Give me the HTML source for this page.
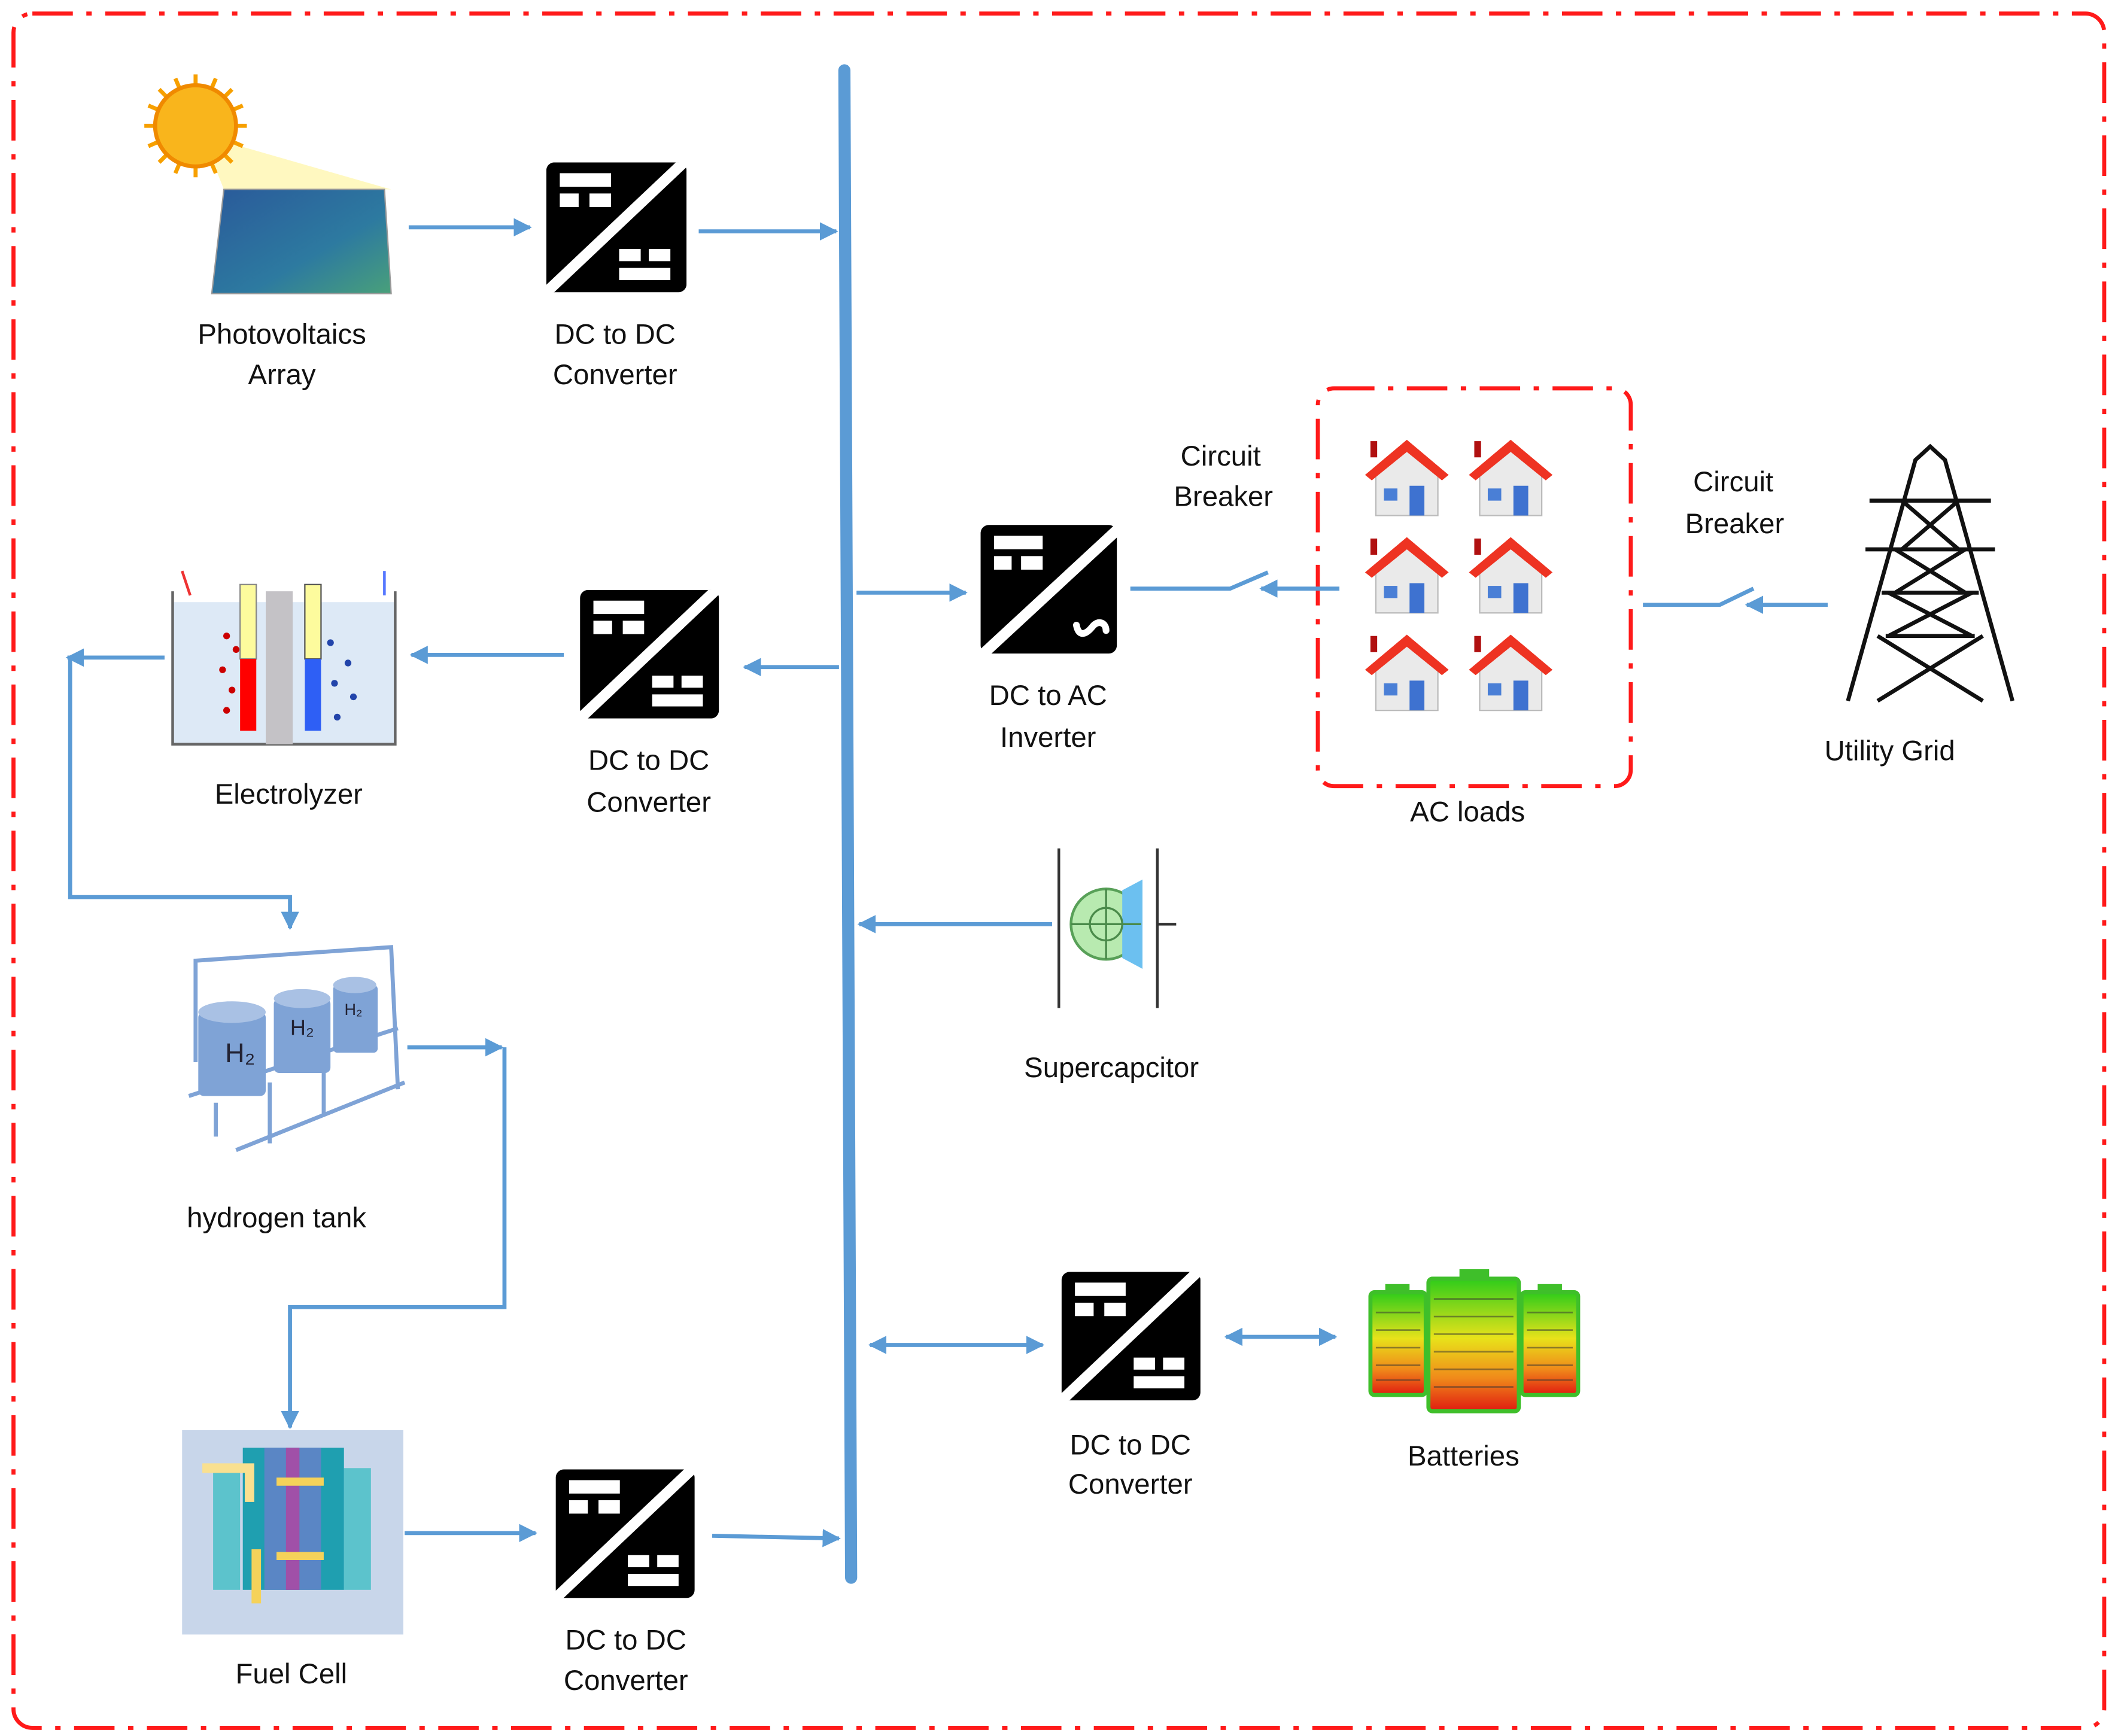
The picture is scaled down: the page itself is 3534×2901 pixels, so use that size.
<!DOCTYPE html>
<html><head><meta charset="utf-8"><style>html,body{margin:0;padding:0;background:#fff}svg{display:block}text{font-family:"Liberation Sans",sans-serif;font-size:21px;fill:#111;text-anchor:middle}</style></head>
<body>
<svg width="3534" height="2901" viewBox="0 0 1568 1283" preserveAspectRatio="none" xmlns="http://www.w3.org/2000/svg">
<defs>
<marker id="ar" viewBox="0 0 10 10" refX="9" refY="5" markerWidth="4.5" markerHeight="4.5" orient="auto-start-reverse"><path d="M0,0L10,5L0,10z" fill="#5b9bd5"/></marker>
<symbol id="conv" viewBox="0 0 104 96">
<rect x="0" y="0" width="104" height="96" rx="6" fill="#000"/>
<path d="M104,-2 L0,96" stroke="#fff" stroke-width="8"/>
<rect x="10" y="8" width="38" height="10" fill="#fff"/>
<rect x="10" y="23" width="14" height="10" fill="#fff"/><rect x="32" y="23" width="16" height="10" fill="#fff"/>
<rect x="54" y="64" width="16" height="9" fill="#fff"/><rect x="76" y="64" width="16" height="9" fill="#fff"/>
<rect x="54" y="78" width="38" height="9" fill="#fff"/>
</symbol>
<linearGradient id="bat" x1="0" y1="0" x2="0" y2="1"><stop offset="0" stop-color="#2ecc1a"/><stop offset="0.45" stop-color="#e8e21a"/><stop offset="0.75" stop-color="#f08a1a"/><stop offset="1" stop-color="#e01a10"/></linearGradient>
<linearGradient id="pv" x1="0" y1="0" x2="1" y2="1"><stop offset="0" stop-color="#2a5a9a"/><stop offset="0.6" stop-color="#2d7aa0"/><stop offset="1" stop-color="#49a07a"/></linearGradient>
<symbol id="house" viewBox="0 0 62 60">
<rect x="4" y="3" width="5" height="12" fill="#b01010"/>
<path d="M8,27 L8,58 L54,58 L54,27 L31,8 Z" fill="#eaeaea" stroke="#bbb"/>
<path d="M0,28 L31,2 L62,28 L57,32 L31,11 L5,32 Z" fill="#ee3322"/>
<rect x="14" y="38" width="10" height="9" fill="#4a7fd6"/>
<rect x="33" y="36" width="11" height="22" fill="#3e72d0"/>
</symbol>
</defs>
<rect x="10" y="10" width="1550" height="1267" rx="14" fill="none" stroke="#ff1a1a" stroke-width="3" stroke-dasharray="30,10,4,10"/>
<rect x="977" y="287" width="232" height="294" rx="12" fill="none" stroke="#ff1a1a" stroke-width="3" stroke-dasharray="30,10,4,10"/>
<line x1="626" y1="52" x2="631" y2="1166" stroke="#5b9bd5" stroke-width="9" stroke-linecap="round"/>
<!-- PV -->
<polygon points="150,100 290,140 166,140" fill="#fff6b0" opacity="0.8"/>
<polygon points="157,217 290,217 285,140 166,140" fill="url(#pv)" stroke="#999"/>
<g stroke="#f7a000" stroke-width="3">
<path d="M145,55V131M107,93H183M118,66L172,120M172,66L118,120M130,58L160,128M160,58L130,128M110,78L180,108M110,108L180,78"/>
</g>
<circle cx="145" cy="93" r="30" fill="#f9b51c" stroke="#f08a00" stroke-width="3"/>
<g stroke="#5b9bd5" stroke-width="3" fill="none" marker-end="url(#ar)">
<line x1="303" y1="168" x2="393" y2="168"/>
<line x1="518" y1="171" x2="620" y2="171"/>
<line x1="622" y1="493" x2="552" y2="493"/>
<line x1="418" y1="484" x2="305" y2="484"/>
<line x1="122" y1="486" x2="50" y2="486"/>
<polyline points="52,486 52,663 215,663 215,686"/>
<polyline points="302,774 372,774"/>
<polyline points="374,774 374,966 215,966 215,1055"/>
<line x1="300" y1="1133" x2="397" y2="1133"/>
<line x1="528" y1="1135" x2="622" y2="1137"/>
<line x1="635" y1="438" x2="716" y2="438"/>
<line x1="993" y1="435" x2="935" y2="435"/>
<line x1="780" y1="683" x2="637" y2="683"/>
<line x1="645" y1="994" x2="773" y2="994" marker-start="url(#ar)"/>
<line x1="909" y1="988" x2="990" y2="988" marker-start="url(#ar)"/>
<line x1="1355" y1="447" x2="1295" y2="447"/>
</g>
<g stroke="#5b9bd5" stroke-width="3" fill="none">
<polyline points="838,435 912,435 940,423"/>
<polyline points="1218,447 1275,447 1300,435"/>
</g>
<use href="#conv" x="405" y="120" width="104" height="96"/>
<use href="#conv" x="427" y="436" width="109" height="95"/>
<use href="#conv" x="409" y="1086" width="109" height="95"/>
<use href="#conv" x="785" y="940" width="107" height="95"/>
<g>
<rect x="727" y="388" width="101" height="95" rx="6" fill="#000"/>
<path d="M830,390 L727,485" stroke="#fff" stroke-width="8"/>
<rect x="737" y="396" width="36" height="10" fill="#fff"/><rect x="737" y="411" width="13" height="10" fill="#fff"/><rect x="757" y="411" width="16" height="10" fill="#fff"/>
<path d="M798,462 C800,472 806,468 810,463 C814,458 820,460 820,466" stroke="#fff" stroke-width="5" fill="none" stroke-linecap="round"/>
</g>
<!-- electrolyzer -->
<rect x="128" y="445" width="165" height="105" fill="#dde9f6"/>
<path d="M128,437 L128,550 L293,550 L293,437" stroke="#666" stroke-width="2" fill="none"/>
<rect x="197" y="437" width="20" height="113" fill="#c4c2c6"/>
<rect x="178" y="432" width="12" height="55" fill="#fdfb9d" stroke="#888"/><rect x="178" y="487" width="12" height="53" fill="#f00"/>
<rect x="226" y="432" width="12" height="55" fill="#fdfb9d" stroke="#555"/><rect x="226" y="487" width="12" height="53" fill="#2e5ff5"/>
<g fill="#c00"><circle cx="168" cy="470" r="2.5"/><circle cx="175" cy="480" r="2.5"/><circle cx="165" cy="495" r="2.5"/><circle cx="172" cy="510" r="2.5"/><circle cx="168" cy="525" r="2.5"/></g>
<g fill="#2244aa"><circle cx="245" cy="475" r="2.5"/><circle cx="258" cy="490" r="2.5"/><circle cx="248" cy="505" r="2.5"/><circle cx="262" cy="515" r="2.5"/><circle cx="250" cy="530" r="2.5"/></g>
<path d="M141,440 L135,422" stroke="#e33" stroke-width="2"/><path d="M285,440 L285,422" stroke="#57f" stroke-width="2"/>
<!-- hydrogen tank -->
<g stroke="#7fa3d6" stroke-width="3" fill="none">
<polyline points="145,785 145,710 290,700 295,805"/>
<line x1="140" y1="810" x2="295" y2="760"/><line x1="175" y1="850" x2="300" y2="800"/>
<line x1="160" y1="815" x2="160" y2="840"/><line x1="200" y1="800" x2="200" y2="845"/><line x1="240" y1="790" x2="240" y2="825"/>
</g>
<g fill="#7fa3d6">
<rect x="147" y="748" width="50" height="62" rx="4"/><ellipse cx="172" cy="748" rx="25" ry="8" fill="#a9c1e4"/>
<rect x="203" y="738" width="42" height="55" rx="4"/><ellipse cx="224" cy="738" rx="21" ry="7" fill="#a9c1e4"/>
<rect x="247" y="728" width="33" height="50" rx="3"/><ellipse cx="263" cy="728" rx="16" ry="6" fill="#a9c1e4"/>
</g>
<text x="178" y="785" style="font-size:20px;fill:#223">H₂</text><text x="224" y="765" style="font-size:16px;fill:#223">H₂</text><text x="262" y="750" style="font-size:12px;fill:#223">H₂</text>
<!-- fuel cell -->
<rect x="135" y="1057" width="164" height="151" fill="#c8d6ea"/>
<rect x="158" y="1085" width="20" height="90" fill="#5cc3cc"/><rect x="255" y="1085" width="20" height="90" fill="#5cc3cc"/>
<rect x="180" y="1070" width="75" height="105" fill="#1f9fb0"/>
<rect x="196" y="1070" width="42" height="105" fill="#5a86c5"/><rect x="212" y="1070" width="10" height="105" fill="#a050a8"/>
<path d="M205,1095 L240,1095 M205,1150 L240,1150" stroke="#f5d25a" stroke-width="6"/>
<path d="M150,1085 L185,1085 L185,1110" stroke="#f9e090" stroke-width="7" fill="none"/>
<path d="M190,1145 L190,1185" stroke="#f5d25a" stroke-width="7"/>
<!-- houses -->
<use href="#house" x="1012" y="323" width="62" height="60"/><use href="#house" x="1089" y="323" width="62" height="60"/>
<use href="#house" x="1012" y="395" width="62" height="60"/><use href="#house" x="1089" y="395" width="62" height="60"/>
<use href="#house" x="1012" y="467" width="62" height="60"/><use href="#house" x="1089" y="467" width="62" height="60"/>
<!-- tower -->
<g stroke="#111" stroke-width="3" fill="none">
<polyline points="1370,518 1420,340 1431,330 1442,340 1492,518"/>
<line x1="1386" y1="370" x2="1476" y2="370"/><line x1="1383" y1="406" x2="1479" y2="406"/><line x1="1395" y1="438" x2="1467" y2="438"/>
<path d="M1410,370 L1452,406 M1452,370 L1410,406 M1405,406 L1457,438 M1457,406 L1405,438 M1400,438 L1462,470 M1462,438 L1400,470 M1392,470 L1470,518 M1470,470 L1392,518 M1398,470 L1464,470"/>
</g>
<!-- supercap -->
<g stroke="#333" stroke-width="2"><line x1="785" y1="627" x2="785" y2="745"/><line x1="858" y1="627" x2="858" y2="745"/><line x1="858" y1="683" x2="872" y2="683"/></g>
<circle cx="820" cy="683" r="26" fill="#b8eab0" stroke="#58a058" stroke-width="2"/>
<path d="M832,658 L847,650 L847,716 L832,708 Z" fill="#6cc0f0"/>
<g stroke="#4a8a4a" stroke-width="1.5"><line x1="794" y1="683" x2="846" y2="683"/><line x1="820" y1="657" x2="820" y2="709"/><circle cx="820" cy="683" r="12" fill="none"/></g>
<!-- batteries -->
<rect x="1016" y="955" width="41" height="76" rx="3" fill="url(#bat)" stroke="#3fbf2a" stroke-width="3"/>
<rect x="1128" y="955" width="42" height="76" rx="3" fill="url(#bat)" stroke="#3fbf2a" stroke-width="3"/>
<rect x="1059" y="945" width="67" height="98" rx="3" fill="url(#bat)" stroke="#3fbf2a" stroke-width="3"/>
<rect x="1082" y="938" width="22" height="8" fill="#3fbf2a"/><rect x="1027" y="949" width="18" height="6" fill="#3fbf2a"/><rect x="1140" y="949" width="18" height="6" fill="#3fbf2a"/>
<g stroke="#333" stroke-width="1.2" opacity="0.5">
<path d="M1020,970H1053M1020,983H1053M1020,996H1053M1020,1009H1053M1020,1020H1053M1132,970H1166M1132,983H1166M1132,996H1166M1132,1009H1166M1132,1020H1166M1063,960H1122M1063,973H1122M1063,986H1122M1063,999H1122M1063,1012H1122M1063,1025H1122"/>
</g>
<!-- labels -->
<text x="209" y="254">Photovoltaics</text><text x="209" y="284">Array</text>
<text x="456" y="254">DC to DC</text><text x="456" y="284">Converter</text>
<text x="214" y="594">Electrolyzer</text>
<text x="481" y="569">DC to DC</text><text x="481" y="600">Converter</text>
<text x="205" y="907">hydrogen tank</text>
<text x="216" y="1244">Fuel Cell</text>
<text x="464" y="1219">DC to DC</text><text x="464" y="1249">Converter</text>
<text x="777" y="521">DC to AC</text><text x="777" y="552">Inverter</text>
<text x="905" y="344">Circuit</text><text x="907" y="374">Breaker</text>
<text x="1285" y="363">Circuit</text><text x="1286" y="394">Breaker</text>
<text x="1088" y="607">AC loads</text>
<text x="1401" y="562">Utility Grid</text>
<text x="824" y="796">Supercapcitor</text>
<text x="838" y="1075">DC to DC</text><text x="838" y="1104">Converter</text>
<text x="1085" y="1083">Batteries</text>
</svg>
</body></html>
